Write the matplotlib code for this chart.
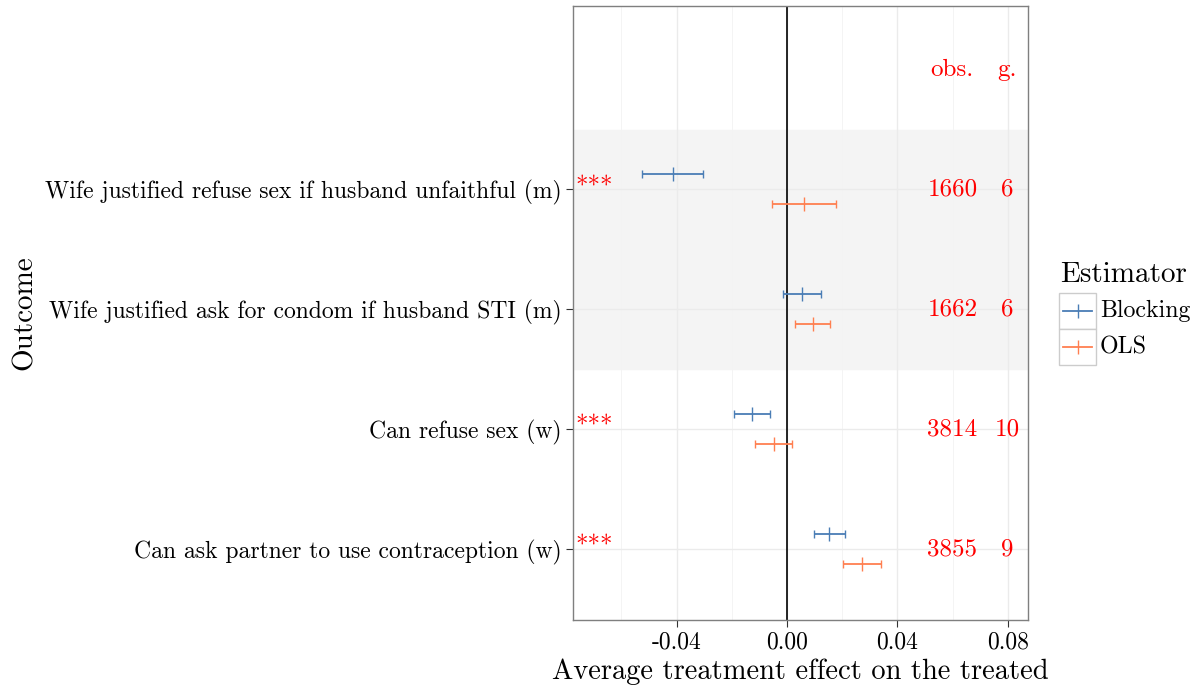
import numpy as np
import matplotlib.pyplot as plt
from matplotlib.lines import Line2D
from matplotlib.patches import Rectangle

plt.rcParams['font.family'] = ['cmr10', 'DejaVu Serif']
plt.rcParams['axes.unicode_minus'] = False
plt.rcParams['mathtext.fontset'] = 'cm'

# data, bottom to top
outcomes = ["Can ask partner to use contraception (w)",
            "Can refuse sex (w)",
            "Wife justified ask for condom if husband STI (m)",
            "Wife justified refuse sex if husband unfaithful (m)"]
block_est = [0.0153, -0.0128, 0.0055, -0.0413]
block_lo = [0.0098, -0.0193, -0.0013, -0.0526]
block_hi = [0.0210, -0.0062, 0.0122, -0.0304]
ols_est = [0.0270, -0.0048, 0.0094, 0.0062]
ols_lo = [0.0202, -0.0115, 0.0030, -0.0055]
ols_hi = [0.0339, 0.0018, 0.0157, 0.0176]
stars = ["***", "***", "", "***"]
obs = [3855, 3814, 1662, 1660]
groups = [9, 10, 6, 6]

blue = '#4A7DB5'
orange = '#FF7F50'

fig = plt.figure(figsize=(11.98, 6.92), dpi=100)
ax = fig.add_axes([573 / 1198, 1 - 620 / 692, 455 / 1198, 614 / 692])

y = np.arange(1, len(outcomes) + 1)

# shaded band for the (m) outcomes
ax.axhspan(2.5, 4.5, color='#F4F4F4', zorder=0)

ax.set_xlim(-0.0775, 0.0873)
ax.set_ylim(0.41, 5.53)
ax.set_xticks([-0.04, 0.0, 0.04, 0.08])
ax.set_xticklabels(['-0.04', '0.00', '0.04', '0.08'])
ax.set_xticks([-0.06, -0.02, 0.02, 0.06], minor=True)
ax.set_yticks(y)
ax.set_yticklabels(outcomes)
ax.grid(True, which='major', color='#EBEBEB', lw=1.0, zorder=0.5)
ax.grid(True, which='minor', axis='x', color='#F3F3F3', lw=0.6, zorder=0.5)
ax.set_axisbelow(True)
ax.tick_params(axis='both', which='major', labelsize=17, length=5, color='#333333')
ax.tick_params(axis='x', which='major', pad=3)
ax.tick_params(axis='x', which='minor', length=0)
for s in ax.spines.values():
    s.set_color('#7F7F7F')
    s.set_linewidth(1.0)

ax.axvline(0, color='black', lw=1.2, zorder=2)

d = 0.125
ax.errorbar(block_est, y + d,
            xerr=[np.array(block_est) - np.array(block_lo), np.array(block_hi) - np.array(block_est)],
            fmt='|', color=blue, ms=10, mew=1.0, elinewidth=1.3, capsize=3, capthick=1.3, zorder=3)
ax.errorbar(ols_est, y - d,
            xerr=[np.array(ols_est) - np.array(ols_lo), np.array(ols_hi) - np.array(ols_est)],
            fmt='|', color=orange, ms=10, mew=1.0, elinewidth=1.3, capsize=3, capthick=1.3, zorder=3)

for i in range(len(outcomes)):
    if stars[i]:
        ax.text(-0.0768, y[i] + 0.02, stars[i], color='red', fontsize=18, ha='left', va='center')
    ax.text(0.0599, y[i], str(obs[i]), color='red', fontsize=18, ha='center', va='center')
    ax.text(0.0797, y[i], str(groups[i]), color='red', fontsize=18, ha='center', va='center')
ax.text(0.0596, 5, 'obs.', color='red', fontsize=18, ha='center', va='center')
ax.text(0.0797, 5, 'g.', color='red', fontsize=18, ha='center', va='center')

ax.set_xlabel('Average treatment effect on the treated', fontsize=20.5, labelpad=4)
ax.set_ylabel('Outcome', fontsize=21, labelpad=5)

# legend drawn by hand (ggplot style keys)
fig.text(1060 / 1198, 1 - 275 / 692, 'Estimator', fontsize=21, ha='left', va='center')
for k, (lab, col) in enumerate([('Blocking', blue), ('OLS', orange)]):
    top = 293 + k * 36
    fig.patches.append(Rectangle((1059 / 1198, 1 - (top + 36) / 692), 37 / 1198, 36 / 692,
                                 transform=fig.transFigure, facecolor='white',
                                 edgecolor='#CCCCCC', lw=1.0))
    yc = 1 - (top + 18) / 692
    fig.lines.append(Line2D([1063 / 1198, 1092 / 1198], [yc, yc], transform=fig.transFigure,
                            color=col, lw=1.3))
    fig.lines.append(Line2D([1077.5 / 1198], [yc], transform=fig.transFigure, color=col,
                            marker='|', ms=10, mew=1.0))
    fig.text(1100 / 1198, yc, lab, fontsize=17.2, ha='left', va='center')

fig.savefig('out.png', dpi=100)
